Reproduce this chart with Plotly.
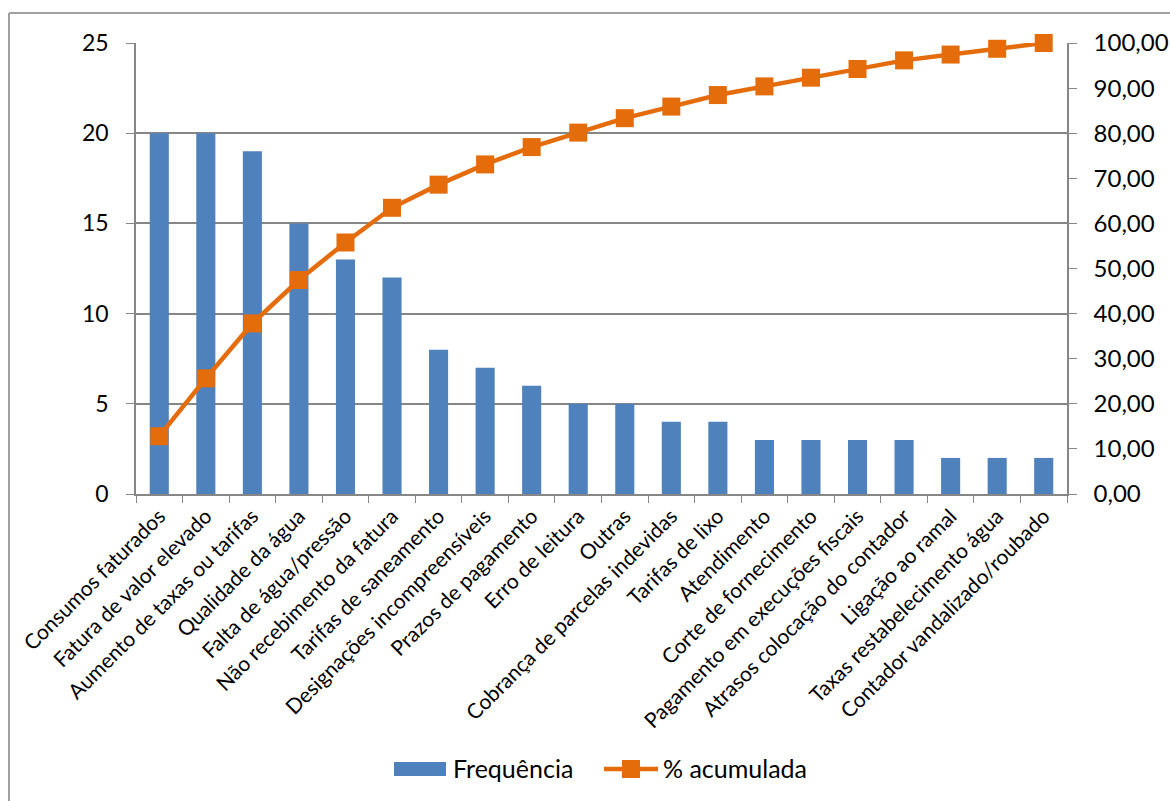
import plotly.graph_objects as go

categories = [
    "Consumos faturados", "Fatura de valor elevado", "Aumento de taxas ou tarifas",
    "Qualidade da água", "Falta de água/pressão", "Não recebimento da fatura",
    "Tarifas de saneamento", "Designações incompreensíveis", "Prazos de pagamento",
    "Erro de leitura", "Outras", "Cobrança de parcelas indevidas", "Tarifas de lixo",
    "Atendimento", "Corte de fornecimento", "Pagamento em execuções fiscais",
    "Atrasos colocação do contador", "Ligação ao ramal", "Taxas restabelecimento água",
    "Contador vandalizado/roubado",
]
frequencia = [20, 20, 19, 15, 13, 12, 8, 7, 6, 5, 5, 4, 4, 3, 3, 3, 3, 2, 2, 2]
acumulada = [12.82, 25.64, 37.82, 47.44, 55.77, 63.46, 68.59, 73.08, 76.92, 80.13,
             83.33, 85.90, 88.46, 90.38, 92.31, 94.23, 96.15, 97.44, 98.72, 100.00]

FONT = "Lato, 'Open Sans', sans-serif"
GRID = "#868686"
BAR = "#4F81BD"
ORANGE = "#E46C0A"

fig = go.Figure()
fig.add_trace(go.Bar(
    x=categories, y=frequencia, name="Frequência",
    marker=dict(color=BAR, line=dict(width=0)),
))
fig.add_trace(go.Scatter(
    x=categories, y=acumulada, name="% acumulada", yaxis="y2",
    mode="lines+markers", cliponaxis=False,
    line=dict(color=ORANGE, width=4.5),
    marker=dict(symbol="square", size=18, color=ORANGE),
))

L, R, T, B = 136, 103, 43, 307
W, H = 1170, 801
pw, ph = W - L - R, H - T - B

def px(x):
    return (x - L) / pw

def py(y):
    return (H - B - y) / ph

shapes = [
    dict(type="line", xref="paper", yref="paper", x0=px(9), x1=px(9), y0=py(13), y1=py(805),
         line=dict(color="#A0A0A0", width=2)),
    dict(type="line", xref="paper", yref="paper", x0=px(9), x1=px(1175), y0=py(13), y1=py(13),
         line=dict(color="#A0A0A0", width=2)),
    # legend swatches
    dict(type="rect", xref="paper", yref="paper", x0=px(394), x1=px(446), y0=py(762), y1=py(776),
         fillcolor=BAR, line=dict(width=0)),
    dict(type="line", xref="paper", yref="paper", x0=px(604), x1=px(658), y0=py(769), y1=py(769),
         line=dict(color=ORANGE, width=4.5)),
    dict(type="rect", xref="paper", yref="paper", x0=px(622), x1=px(640), y0=py(760), y1=py(778),
         fillcolor=ORANGE, line=dict(width=0)),
]
annotations = [
    dict(text="Frequência", xref="paper", yref="paper", x=px(451), y=py(768),
         xanchor="left", yanchor="middle", showarrow=False, font=dict(size=25)),
    dict(text="% acumulada", xref="paper", yref="paper", x=px(661), y=py(768),
         xanchor="left", yanchor="middle", showarrow=False, font=dict(size=25)),
]

fig.update_layout(
    width=W, height=H,
    margin=dict(l=L, r=R, t=T, b=B, pad=0, autoexpand=False),
    paper_bgcolor="white", plot_bgcolor="white",
    separators=",.",
    font=dict(family=FONT, color="black", size=20),
    bargap=0.59,
    showlegend=False,
    xaxis=dict(
        range=[-0.5, 19.5], automargin=False,
        tickangle=-45, tickfont=dict(size=21),
        showline=True, linecolor=GRID, linewidth=1.5,
        ticks="outside", tickson="boundaries", ticklen=7, tickcolor=GRID,
        showgrid=False,
    ),
    yaxis=dict(
        range=[0, 25], dtick=5, tickfont=dict(size=23), automargin=False,
        showgrid=True, gridcolor=GRID, gridwidth=1.5,
        showline=True, linecolor=GRID, linewidth=1.5,
        ticks="outside", ticklen=8, tickcolor=GRID,
        ticklabelstandoff=13, zeroline=False,
    ),
    yaxis2=dict(
        range=[0, 100], dtick=10, tickformat=".2f", overlaying="y", side="right",
        tickfont=dict(size=24), showgrid=False, automargin=False,
        showline=True, linecolor=GRID, linewidth=1.5,
        ticks="outside", ticklen=8, tickcolor=GRID,
        ticklabelstandoff=12, zeroline=False,
    ),
    shapes=shapes,
    annotations=annotations,
)

fig.write_html("out.html")
